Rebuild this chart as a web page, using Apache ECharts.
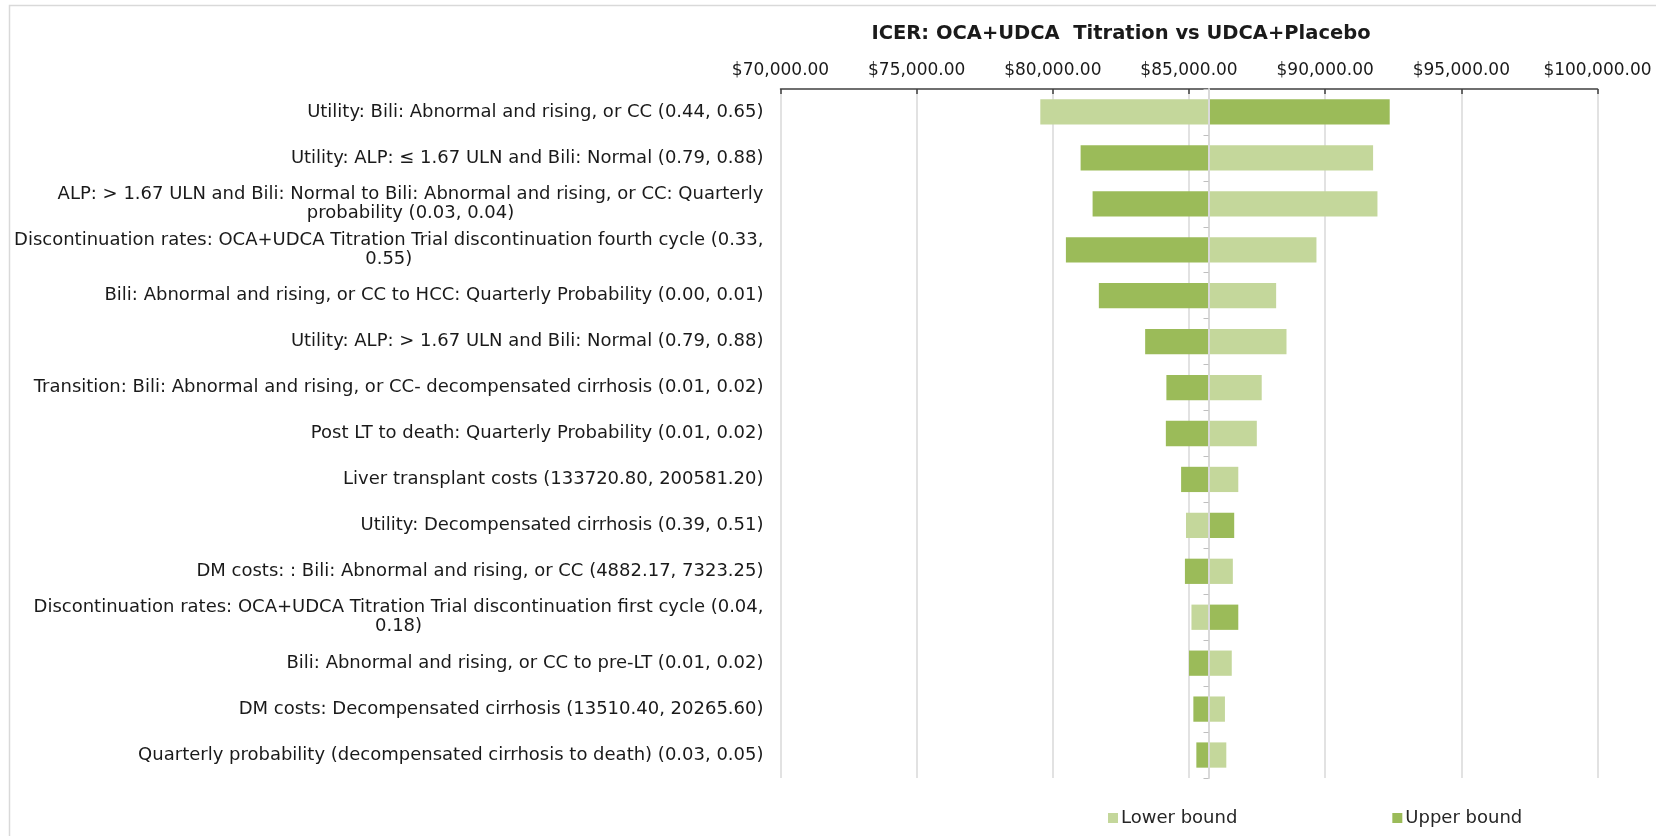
<!DOCTYPE html>
<html>
<head>
<meta charset="utf-8">
<script src="https://cdn.jsdelivr.net/npm/echarts@6/dist/echarts.min.js"></script>
<style>
html,body{margin:0;padding:0;background:#fff;}
#chart{width:1656px;height:836px;}
</style>
</head>
<body>
<div id="chart"></div>
<script>
// ---- data ----
const chartTitle = 'ICER: OCA+UDCA  Titration vs UDCA+Placebo';
const categories = [
  'Utility: Bili: Abnormal and rising, or CC (0.44, 0.65)',
  'Utility: ALP: \u2264 1.67 ULN and Bili: Normal (0.79, 0.88)',
  'ALP: > 1.67 ULN and Bili: Normal to Bili: Abnormal and rising, or CC: Quarterly\nprobability (0.03, 0.04)',
  'Discontinuation rates: OCA+UDCA Titration Trial discontinuation fourth cycle (0.33,\n0.55)',
  'Bili: Abnormal and rising, or CC to HCC: Quarterly Probability (0.00, 0.01)',
  'Utility: ALP: > 1.67 ULN and Bili: Normal (0.79, 0.88)',
  'Transition: Bili: Abnormal and rising, or CC- decompensated cirrhosis (0.01, 0.02)',
  'Post LT to death: Quarterly Probability (0.01, 0.02)',
  'Liver transplant costs (133720.80, 200581.20)',
  'Utility: Decompensated cirrhosis (0.39, 0.51)',
  'DM costs: : Bili: Abnormal and rising, or CC (4882.17, 7323.25)',
  'Discontinuation rates: OCA+UDCA Titration Trial discontinuation first cycle (0.04,\n0.18)',
  'Bili: Abnormal and rising, or CC to pre-LT (0.01, 0.02)',
  'DM costs: Decompensated cirrhosis (13510.40, 20265.60)',
  'Quarterly probability (decompensated cirrhosis to death) (0.03, 0.05)'
];
const baseIcer = 85720;
const lowerBound = [79540, 91760, 91920, 89680, 88200, 88580, 87670, 87490, 86810, 84890, 86610, 85090, 86570, 86320, 86370];
const upperBound = [92370, 81020, 81460, 80480, 81690, 83390, 84170, 84150, 84710, 86660, 84850, 86810, 85000, 85160, 85270];
const axisMin = 70000, axisMax = 100000, axisStep = 5000;
const seriesNames = ['Lower bound', 'Upper bound'];
const seriesColors = ['#C4D79B', '#9BBB59'];

// ---- chart ----
const chart = echarts.init(document.getElementById('chart'), null, {renderer: 'canvas'});

function renderBar(params, api) {
  const cat = api.value(1);
  const val = api.value(0);
  const p0 = api.coord([baseIcer, cat]);
  const p1 = api.coord([val, cat]);
  const h = api.size([0, 1])[1] * 0.55;
  return {
    type: 'rect',
    shape: {x: Math.min(p0[0], p1[0]), y: p0[1] - h / 2, width: Math.abs(p1[0] - p0[0]), height: h},
    style: api.style()
  };
}

function mkSeries(name, color, values) {
  return {
    name: name,
    type: 'custom',
    renderItem: renderBar,
    itemStyle: {color: color},
    encode: {x: 0, y: 1},
    yAxisIndex: 0,
    z: 2,
    data: values.map((v, i) => [v, i])
  };
}

const fontFam = '"DejaVu Sans", sans-serif';

const option = {
  backgroundColor: '#ffffff',
  animation: false,
  title: {
    text: chartTitle,
    left: 1116, top: 19, textAlign: 'center',
    textStyle: {fontFamily: fontFam, fontWeight: 'bold', fontSize: 19.5, color: '#1a1a1a'}
  },
  graphic: [{
    type: 'rect', left: 7, top: 3, z: -1, silent: true,
    shape: {width: 1700, height: 832},
    style: {fill: 'none', stroke: '#d9d9d9', lineWidth: 1.5}
  }],
  legend: {
    data: seriesNames,
    left: 1103, top: 804,
    icon: 'rect', itemWidth: 10, itemHeight: 10, itemGap: 155,
    textStyle: {fontFamily: fontFam, fontSize: 18, color: '#262626', padding: [0, 0, 0, -2]}
  },
  grid: {left: 780.5, right: 58.5, top: 89, bottom: 58},
  xAxis: {
    type: 'value', position: 'top',
    min: axisMin, max: axisMax, interval: axisStep,
    axisLine: {show: true, lineStyle: {color: '#404040', width: 1.5}},
    axisTick: {show: true, inside: true, length: 5, lineStyle: {color: '#404040', width: 1.5}},
    axisLabel: {
      margin: 10, fontFamily: fontFam, fontSize: 17, color: '#1a1a1a',
      formatter: v => '$' + v.toLocaleString('en-US', {minimumFractionDigits: 2, maximumFractionDigits: 2})
    },
    splitLine: {show: true, lineStyle: {color: '#d9d9d9', width: 1.5}}
  },
  yAxis: [{
    type: 'category', inverse: true, data: categories, position: 'left',
    axisLine: {show: false}, axisTick: {show: false},
    axisLabel: {
      margin: 17, fontFamily: fontFam, fontSize: 18, color: '#1a1a1a', lineHeight: 19,
      formatter: function (v) {
        const lines = v.split('\n');
        if (lines.length === 1) return v;
        return lines.map(l => '{c|' + l + '}').join('\n');
      },
      rich: {c: {align: 'center', fontFamily: fontFam, fontSize: 18, color: '#1a1a1a', lineHeight: 19}}
    }
  }, {
    type: 'category', inverse: true, data: categories, position: 'left',
    offset: -428, z: 3,
    axisLine: {show: true, lineStyle: {color: '#d9d9d9', width: 2}},
    axisTick: {show: true, length: 5, lineStyle: {color: '#bfbfbf', width: 1}},
    axisLabel: {show: false},
    splitLine: {show: false}
  }],
  series: [
    mkSeries(seriesNames[0], seriesColors[0], lowerBound),
    mkSeries(seriesNames[1], seriesColors[1], upperBound)
  ]
};
chart.setOption(option);
</script>
</body>
</html>
